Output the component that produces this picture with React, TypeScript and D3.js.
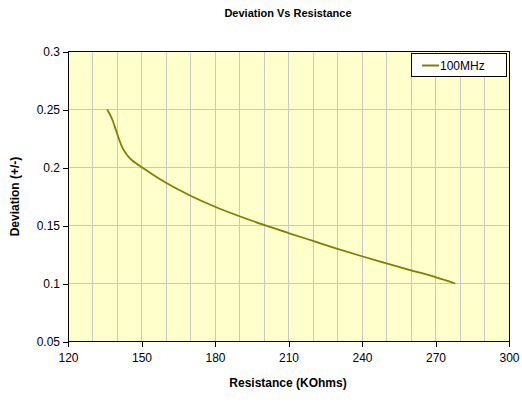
import React, { useEffect, useRef } from "react";
import * as d3 from "d3";

const resistance = [136, 138, 140, 142, 144, 146, 148, 150, 155, 160, 170, 180, 190, 200, 210, 220, 230, 240, 250, 260, 270, 278];
const deviation = [0.25, 0.2418, 0.2295, 0.218, 0.211, 0.2065, 0.2033, 0.2005, 0.1933, 0.1868, 0.1757, 0.1662, 0.158, 0.1505, 0.1435, 0.1367, 0.1299, 0.1235, 0.1174, 0.1114, 0.1055, 0.1];
const xTicks = [120, 150, 180, 210, 240, 270, 300];
const yTicks = [0.05, 0.1, 0.15, 0.2, 0.25, 0.3];
const seriesName = "100MHz";

export default function App() {
  const ref = useRef<SVGSVGElement>(null);
  useEffect(() => {
    const svg = d3.select(ref.current);
    svg.selectAll("*").remove();
    const W = 522, H = 402;
    const L = 68, R = 509, T = 51.5, B = 341.5;
    const x = d3.scaleLinear().domain([120, 300]).range([L, R]);
    const y = d3.scaleLinear().domain([0.05, 0.3]).range([B, T]);
    const font = "Liberation Sans, Arial, sans-serif";

    svg.append("rect").attr("width", W).attr("height", H).attr("fill", "#fff");
    svg.append("rect").attr("x", L).attr("y", T).attr("width", R - L).attr("height", B - T).attr("fill", "#FFFFCC");

    const g = svg.append("g");
    d3.range(130, 300, 10).forEach((v) => {
      g.append("line").attr("x1", x(v)).attr("x2", x(v)).attr("y1", T).attr("y2", B)
        .attr("stroke", "#c8c8c8").attr("stroke-width", 1).attr("shape-rendering", "crispEdges");
    });
    yTicks.slice(1, -1).forEach((v) => {
      g.append("line").attr("x1", L).attr("x2", R).attr("y1", y(v)).attr("y2", y(v))
        .attr("stroke", "#c8c8c8").attr("stroke-width", 1).attr("shape-rendering", "crispEdges");
    });

    svg.append("rect").attr("x", L).attr("y", T).attr("width", R - L).attr("height", B - T)
      .attr("fill", "none").attr("stroke", "#000").attr("stroke-width", 1).attr("shape-rendering", "crispEdges");

    const xa = svg.append("g").attr("transform", `translate(0,${B})`)
      .call(d3.axisBottom(x).tickValues(xTicks).tickSize(5).tickFormat(d3.format("d")));
    xa.select(".domain").remove();
    xa.selectAll("line").attr("stroke", "#000").attr("shape-rendering", "crispEdges");
    xa.selectAll("text").attr("font-family", font).attr("font-size", 12).attr("fill", "#000").attr("dy", "1.0em");

    const ya = svg.append("g").attr("transform", `translate(${L},0)`)
      .call(d3.axisLeft(y).tickValues(yTicks).tickSize(5).tickFormat((d: any) => String(+d.toFixed(2))));
    ya.select(".domain").remove();
    ya.selectAll("line").attr("stroke", "#000").attr("shape-rendering", "crispEdges");
    ya.selectAll("text").attr("font-family", font).attr("font-size", 12).attr("fill", "#000").attr("x", -8);

    const data = resistance.map((r, i) => [r, deviation[i]] as [number, number]);
    const line = d3.line<[number, number]>().x((d) => x(d[0])).y((d) => y(d[1])).curve(d3.curveMonotoneX);
    svg.append("path").datum(data).attr("d", line).attr("fill", "none").attr("stroke", "#808000").attr("stroke-width", 1.8);

    svg.append("text").attr("x", 288).attr("y", 17).attr("text-anchor", "middle")
      .attr("font-family", font).attr("font-size", 11).attr("font-weight", "bold").text("Deviation Vs Resistance");
    svg.append("text").attr("x", 288).attr("y", 387).attr("text-anchor", "middle")
      .attr("font-family", font).attr("font-size", 12).attr("font-weight", "bold").text("Resistance (KOhms)");
    svg.append("text").attr("transform", `translate(19,${(T + B) / 2}) rotate(-90)`).attr("text-anchor", "middle")
      .attr("font-family", font).attr("font-size", 12).attr("font-weight", "bold").text("Deviation (+/-)");

    const lg = svg.append("g");
    lg.append("rect").attr("x", 411).attr("y", 53.5).attr("width", 95).attr("height", 23)
      .attr("fill", "#fff").attr("stroke", "#000").attr("stroke-width", 1).attr("shape-rendering", "crispEdges");
    lg.append("line").attr("x1", 422).attr("x2", 439).attr("y1", 65.5).attr("y2", 65.5)
      .attr("stroke", "#808000").attr("stroke-width", 2);
    lg.append("text").attr("x", 440).attr("y", 70).attr("font-family", font).attr("font-size", 12).text(seriesName);
  }, []);
  return <svg ref={ref} width={522} height={402} style={{ display: "block", position: "absolute", left: 0, top: 0 }} />;
}
